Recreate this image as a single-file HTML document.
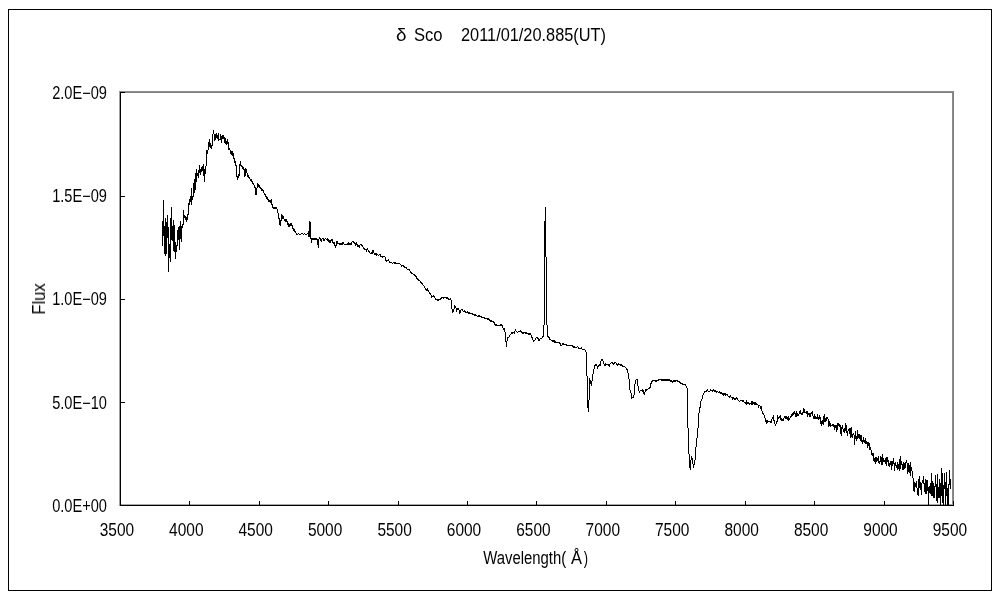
<!DOCTYPE html>
<html><head><meta charset="utf-8"><title>delta Sco spectrum</title>
<style>
html,body{margin:0;padding:0;background:#fff;}
body{width:1000px;height:600px;overflow:hidden;font-family:"Liberation Sans",sans-serif;}
svg{display:block;}
svg text{font-family:"Liberation Sans",sans-serif;font-size:17.5px;fill:#000;}
</style></head><body>
<svg width="1000" height="600" viewBox="0 0 1000 600">
<rect x="0" y="0" width="1000" height="600" fill="#fff"/>
<g shape-rendering="crispEdges">
<rect x="8.5" y="9.5" width="983" height="581" fill="none" stroke="#000" stroke-width="1"/>
<rect x="119" y="91" width="835" height="1" fill="#8c8c8c"/>
<rect x="952" y="91" width="1" height="414" fill="#8c8c8c"/>
<rect x="119" y="92" width="1" height="414" fill="#a0a0a0"/>
<rect x="120" y="504" width="834" height="1" fill="#a8a8a8"/>
<rect x="120" y="92" width="834" height="1" fill="#808080"/>
<rect x="953" y="92" width="1" height="414" fill="#808080"/>
<rect x="120" y="92" width="1" height="414" fill="#000"/>
<rect x="120" y="505" width="834" height="1" fill="#000"/>
<rect x="545" y="207" width="1" height="50" fill="#000"/>
<rect x="544" y="221" width="1" height="104" fill="#000"/>
<rect x="546" y="257" width="1" height="68" fill="#000"/>
<rect x="543" y="325" width="1" height="12" fill="#000"/>
<rect x="547" y="325" width="1" height="12" fill="#000"/>
<rect x="162" y="221" width="1" height="25" fill="#000"/>
<rect x="163" y="200" width="1" height="36" fill="#000"/>
<rect x="164" y="226" width="1" height="28" fill="#000"/>
<rect x="165" y="218" width="1" height="38" fill="#000"/>
<rect x="166" y="222" width="1" height="32" fill="#000"/>
<rect x="167" y="215" width="1" height="23" fill="#000"/>
<rect x="168" y="227" width="1" height="45" fill="#000"/>
<rect x="169" y="244" width="1" height="14" fill="#000"/>
<rect x="170" y="218" width="1" height="44" fill="#000"/>
<rect x="171" y="207" width="1" height="33" fill="#000"/>
<rect x="172" y="226" width="1" height="15" fill="#000"/>
<rect x="173" y="220" width="1" height="31" fill="#000"/>
<rect x="174" y="225" width="1" height="27" fill="#000"/>
<rect x="175" y="242" width="1" height="17" fill="#000"/>
<rect x="176" y="245" width="1" height="7" fill="#000"/>
<rect x="177" y="230" width="1" height="16" fill="#000"/>
<rect x="178" y="227" width="1" height="13" fill="#000"/>
<rect x="179" y="226" width="1" height="24" fill="#000"/>
<rect x="180" y="221" width="1" height="18" fill="#000"/>
<rect x="181" y="226" width="1" height="16" fill="#000"/>
<rect x="182" y="224" width="1" height="4" fill="#000"/>
<rect x="183" y="210" width="1" height="15" fill="#000"/>
<rect x="184" y="215" width="1" height="3" fill="#000"/>
<rect x="185" y="216" width="1" height="4" fill="#000"/>
<rect x="186" y="217" width="1" height="5" fill="#000"/>
<rect x="187" y="214" width="1" height="6" fill="#000"/>
<rect x="188" y="203" width="1" height="12" fill="#000"/>
<rect x="189" y="199" width="1" height="6" fill="#000"/>
<rect x="190" y="196" width="1" height="6" fill="#000"/>
<rect x="191" y="188" width="1" height="17" fill="#000"/>
<rect x="192" y="196" width="1" height="4" fill="#000"/>
<rect x="193" y="183" width="1" height="14" fill="#000"/>
<rect x="194" y="179" width="1" height="14" fill="#000"/>
<rect x="195" y="173" width="1" height="17" fill="#000"/>
<rect x="196" y="169" width="1" height="13" fill="#000"/>
<rect x="197" y="173" width="1" height="3" fill="#000"/>
<rect x="198" y="170" width="1" height="8" fill="#000"/>
<rect x="199" y="165" width="1" height="8" fill="#000"/>
<rect x="200" y="169" width="1" height="6" fill="#000"/>
<rect x="201" y="167" width="1" height="5" fill="#000"/>
<rect x="202" y="166" width="1" height="5" fill="#000"/>
<rect x="203" y="164" width="1" height="12" fill="#000"/>
<rect x="204" y="169" width="1" height="13" fill="#000"/>
<rect x="205" y="166" width="1" height="8" fill="#000"/>
<rect x="206" y="150" width="1" height="16" fill="#000"/>
<rect x="207" y="150" width="1" height="4" fill="#000"/>
<rect x="208" y="142" width="1" height="8" fill="#000"/>
<rect x="209" y="139" width="1" height="8" fill="#000"/>
<rect x="210" y="143" width="1" height="5" fill="#000"/>
<rect x="211" y="145" width="1" height="4" fill="#000"/>
<rect x="212" y="134" width="1" height="12" fill="#000"/>
<rect x="213" y="130" width="1" height="4" fill="#000"/>
<rect x="214" y="134" width="1" height="7" fill="#000"/>
<rect x="215" y="134" width="1" height="6" fill="#000"/>
<rect x="216" y="133" width="1" height="5" fill="#000"/>
<rect x="217" y="135" width="1" height="4" fill="#000"/>
<rect x="218" y="133" width="1" height="8" fill="#000"/>
<rect x="219" y="139" width="1" height="1" fill="#000"/>
<rect x="220" y="134" width="1" height="6" fill="#000"/>
<rect x="221" y="136" width="1" height="7" fill="#000"/>
<rect x="222" y="135" width="1" height="4" fill="#000"/>
<rect x="223" y="135" width="1" height="4" fill="#000"/>
<rect x="224" y="137" width="1" height="6" fill="#000"/>
<rect x="225" y="138" width="1" height="6" fill="#000"/>
<rect x="226" y="141" width="1" height="4" fill="#000"/>
<rect x="227" y="139" width="1" height="5" fill="#000"/>
<rect x="228" y="142" width="1" height="8" fill="#000"/>
<rect x="229" y="148" width="1" height="2" fill="#000"/>
<rect x="230" y="150" width="1" height="4" fill="#000"/>
<rect x="231" y="151" width="1" height="4" fill="#000"/>
<rect x="232" y="151" width="1" height="5" fill="#000"/>
<rect x="233" y="153" width="1" height="6" fill="#000"/>
<rect x="234" y="158" width="1" height="5" fill="#000"/>
<rect x="235" y="161" width="1" height="5" fill="#000"/>
<rect x="236" y="165" width="1" height="12" fill="#000"/>
<rect x="237" y="176" width="1" height="4" fill="#000"/>
<rect x="238" y="174" width="1" height="4" fill="#000"/>
<rect x="239" y="164" width="1" height="12" fill="#000"/>
<rect x="240" y="161" width="1" height="5" fill="#000"/>
<rect x="241" y="165" width="1" height="2" fill="#000"/>
<rect x="242" y="166" width="1" height="3" fill="#000"/>
<rect x="243" y="167" width="1" height="3" fill="#000"/>
<rect x="244" y="169" width="1" height="8" fill="#000"/>
<rect x="245" y="168" width="1" height="8" fill="#000"/>
<rect x="246" y="169" width="1" height="4" fill="#000"/>
<rect x="247" y="173" width="1" height="4" fill="#000"/>
<rect x="248" y="175" width="1" height="3" fill="#000"/>
<rect x="249" y="177" width="1" height="2" fill="#000"/>
<rect x="250" y="179" width="1" height="2" fill="#000"/>
<rect x="251" y="179" width="1" height="3" fill="#000"/>
<rect x="252" y="181" width="1" height="3" fill="#000"/>
<rect x="253" y="183" width="1" height="2" fill="#000"/>
<rect x="254" y="185" width="1" height="3" fill="#000"/>
<rect x="255" y="187" width="1" height="8" fill="#000"/>
<rect x="256" y="188" width="1" height="7" fill="#000"/>
<rect x="257" y="183" width="1" height="5" fill="#000"/>
<rect x="258" y="184" width="1" height="3" fill="#000"/>
<rect x="259" y="185" width="1" height="3" fill="#000"/>
<rect x="260" y="187" width="1" height="2" fill="#000"/>
<rect x="261" y="188" width="1" height="3" fill="#000"/>
<rect x="262" y="189" width="1" height="2" fill="#000"/>
<rect x="263" y="190" width="1" height="3" fill="#000"/>
<rect x="264" y="193" width="1" height="2" fill="#000"/>
<rect x="265" y="194" width="1" height="3" fill="#000"/>
<rect x="266" y="196" width="1" height="3" fill="#000"/>
<rect x="267" y="197" width="1" height="3" fill="#000"/>
<rect x="268" y="199" width="1" height="3" fill="#000"/>
<rect x="269" y="200" width="1" height="2" fill="#000"/>
<rect x="270" y="200" width="1" height="3" fill="#000"/>
<rect x="271" y="199" width="1" height="6" fill="#000"/>
<rect x="272" y="204" width="1" height="4" fill="#000"/>
<rect x="273" y="207" width="1" height="2" fill="#000"/>
<rect x="274" y="207" width="1" height="2" fill="#000"/>
<rect x="275" y="207" width="1" height="2" fill="#000"/>
<rect x="276" y="207" width="1" height="2" fill="#000"/>
<rect x="277" y="209" width="1" height="4" fill="#000"/>
<rect x="278" y="213" width="1" height="6" fill="#000"/>
<rect x="279" y="218" width="1" height="7" fill="#000"/>
<rect x="280" y="220" width="1" height="6" fill="#000"/>
<rect x="281" y="214" width="1" height="7" fill="#000"/>
<rect x="282" y="215" width="1" height="4" fill="#000"/>
<rect x="283" y="216" width="1" height="3" fill="#000"/>
<rect x="284" y="219" width="1" height="2" fill="#000"/>
<rect x="285" y="219" width="1" height="3" fill="#000"/>
<rect x="286" y="219" width="1" height="3" fill="#000"/>
<rect x="287" y="221" width="1" height="4" fill="#000"/>
<rect x="288" y="223" width="1" height="4" fill="#000"/>
<rect x="289" y="224" width="1" height="3" fill="#000"/>
<rect x="290" y="223" width="1" height="3" fill="#000"/>
<rect x="291" y="223" width="1" height="3" fill="#000"/>
<rect x="292" y="225" width="1" height="4" fill="#000"/>
<rect x="293" y="228" width="1" height="3" fill="#000"/>
<rect x="294" y="229" width="1" height="3" fill="#000"/>
<rect x="295" y="231" width="1" height="2" fill="#000"/>
<rect x="296" y="233" width="1" height="2" fill="#000"/>
<rect x="297" y="234" width="1" height="1" fill="#000"/>
<rect x="298" y="233" width="1" height="1" fill="#000"/>
<rect x="299" y="234" width="1" height="1" fill="#000"/>
<rect x="300" y="234" width="1" height="1" fill="#000"/>
<rect x="301" y="233" width="1" height="1" fill="#000"/>
<rect x="302" y="233" width="1" height="1" fill="#000"/>
<rect x="303" y="234" width="1" height="1" fill="#000"/>
<rect x="304" y="233" width="1" height="1" fill="#000"/>
<rect x="305" y="234" width="1" height="1" fill="#000"/>
<rect x="306" y="234" width="1" height="1" fill="#000"/>
<rect x="307" y="233" width="1" height="1" fill="#000"/>
<rect x="308" y="231" width="1" height="6" fill="#000"/>
<rect x="309" y="221" width="1" height="16" fill="#000"/>
<rect x="310" y="222" width="1" height="17" fill="#000"/>
<rect x="311" y="238" width="1" height="5" fill="#000"/>
<rect x="312" y="238" width="1" height="2" fill="#000"/>
<rect x="313" y="238" width="1" height="2" fill="#000"/>
<rect x="314" y="238" width="1" height="2" fill="#000"/>
<rect x="315" y="238" width="1" height="2" fill="#000"/>
<rect x="316" y="238" width="1" height="2" fill="#000"/>
<rect x="317" y="239" width="1" height="6" fill="#000"/>
<rect x="318" y="239" width="1" height="9" fill="#000"/>
<rect x="319" y="237" width="1" height="2" fill="#000"/>
<rect x="320" y="238" width="1" height="3" fill="#000"/>
<rect x="321" y="239" width="1" height="3" fill="#000"/>
<rect x="322" y="238" width="1" height="1" fill="#000"/>
<rect x="323" y="238" width="1" height="3" fill="#000"/>
<rect x="324" y="239" width="1" height="2" fill="#000"/>
<rect x="325" y="238" width="1" height="1" fill="#000"/>
<rect x="326" y="239" width="1" height="1" fill="#000"/>
<rect x="327" y="238" width="1" height="3" fill="#000"/>
<rect x="328" y="239" width="1" height="3" fill="#000"/>
<rect x="329" y="240" width="1" height="3" fill="#000"/>
<rect x="330" y="240" width="1" height="3" fill="#000"/>
<rect x="331" y="239" width="1" height="2" fill="#000"/>
<rect x="332" y="239" width="1" height="4" fill="#000"/>
<rect x="333" y="242" width="1" height="2" fill="#000"/>
<rect x="334" y="242" width="1" height="4" fill="#000"/>
<rect x="335" y="245" width="1" height="3" fill="#000"/>
<rect x="336" y="241" width="1" height="5" fill="#000"/>
<rect x="337" y="241" width="1" height="3" fill="#000"/>
<rect x="338" y="243" width="1" height="1" fill="#000"/>
<rect x="339" y="243" width="1" height="2" fill="#000"/>
<rect x="340" y="243" width="1" height="2" fill="#000"/>
<rect x="341" y="243" width="1" height="2" fill="#000"/>
<rect x="342" y="242" width="1" height="3" fill="#000"/>
<rect x="343" y="242" width="1" height="2" fill="#000"/>
<rect x="344" y="244" width="1" height="1" fill="#000"/>
<rect x="345" y="244" width="1" height="1" fill="#000"/>
<rect x="346" y="244" width="1" height="1" fill="#000"/>
<rect x="347" y="243" width="1" height="2" fill="#000"/>
<rect x="348" y="242" width="1" height="3" fill="#000"/>
<rect x="349" y="243" width="1" height="2" fill="#000"/>
<rect x="350" y="243" width="1" height="2" fill="#000"/>
<rect x="351" y="242" width="1" height="3" fill="#000"/>
<rect x="352" y="241" width="1" height="1" fill="#000"/>
<rect x="353" y="241" width="1" height="2" fill="#000"/>
<rect x="354" y="242" width="1" height="2" fill="#000"/>
<rect x="355" y="243" width="1" height="3" fill="#000"/>
<rect x="356" y="242" width="1" height="3" fill="#000"/>
<rect x="357" y="244" width="1" height="3" fill="#000"/>
<rect x="358" y="245" width="1" height="2" fill="#000"/>
<rect x="359" y="245" width="1" height="3" fill="#000"/>
<rect x="360" y="244" width="1" height="1" fill="#000"/>
<rect x="361" y="244" width="1" height="2" fill="#000"/>
<rect x="362" y="245" width="1" height="2" fill="#000"/>
<rect x="363" y="247" width="1" height="2" fill="#000"/>
<rect x="364" y="248" width="1" height="2" fill="#000"/>
<rect x="365" y="249" width="1" height="1" fill="#000"/>
<rect x="366" y="249" width="1" height="3" fill="#000"/>
<rect x="367" y="248" width="1" height="2" fill="#000"/>
<rect x="368" y="250" width="1" height="2" fill="#000"/>
<rect x="369" y="251" width="1" height="2" fill="#000"/>
<rect x="370" y="253" width="1" height="1" fill="#000"/>
<rect x="371" y="252" width="1" height="2" fill="#000"/>
<rect x="372" y="250" width="1" height="4" fill="#000"/>
<rect x="373" y="250" width="1" height="3" fill="#000"/>
<rect x="374" y="253" width="1" height="2" fill="#000"/>
<rect x="375" y="253" width="1" height="2" fill="#000"/>
<rect x="376" y="253" width="1" height="3" fill="#000"/>
<rect x="377" y="254" width="1" height="1" fill="#000"/>
<rect x="378" y="255" width="1" height="1" fill="#000"/>
<rect x="379" y="254" width="1" height="1" fill="#000"/>
<rect x="380" y="254" width="1" height="3" fill="#000"/>
<rect x="381" y="256" width="1" height="1" fill="#000"/>
<rect x="382" y="256" width="1" height="2" fill="#000"/>
<rect x="383" y="256" width="1" height="1" fill="#000"/>
<rect x="384" y="256" width="1" height="1" fill="#000"/>
<rect x="385" y="257" width="1" height="4" fill="#000"/>
<rect x="386" y="260" width="1" height="2" fill="#000"/>
<rect x="387" y="260" width="1" height="1" fill="#000"/>
<rect x="388" y="259" width="1" height="2" fill="#000"/>
<rect x="389" y="261" width="1" height="2" fill="#000"/>
<rect x="390" y="262" width="1" height="1" fill="#000"/>
<rect x="391" y="262" width="1" height="1" fill="#000"/>
<rect x="392" y="263" width="1" height="1" fill="#000"/>
<rect x="393" y="262" width="1" height="1" fill="#000"/>
<rect x="394" y="262" width="1" height="2" fill="#000"/>
<rect x="395" y="262" width="1" height="2" fill="#000"/>
<rect x="396" y="263" width="1" height="1" fill="#000"/>
<rect x="397" y="263" width="1" height="1" fill="#000"/>
<rect x="398" y="263" width="1" height="1" fill="#000"/>
<rect x="399" y="263" width="1" height="1" fill="#000"/>
<rect x="400" y="264" width="1" height="1" fill="#000"/>
<rect x="401" y="265" width="1" height="2" fill="#000"/>
<rect x="402" y="265" width="1" height="1" fill="#000"/>
<rect x="403" y="265" width="1" height="2" fill="#000"/>
<rect x="404" y="266" width="1" height="2" fill="#000"/>
<rect x="405" y="267" width="1" height="1" fill="#000"/>
<rect x="406" y="267" width="1" height="2" fill="#000"/>
<rect x="407" y="269" width="1" height="1" fill="#000"/>
<rect x="408" y="269" width="1" height="1" fill="#000"/>
<rect x="409" y="269" width="1" height="2" fill="#000"/>
<rect x="410" y="271" width="1" height="2" fill="#000"/>
<rect x="411" y="272" width="1" height="2" fill="#000"/>
<rect x="412" y="273" width="1" height="1" fill="#000"/>
<rect x="413" y="274" width="1" height="1" fill="#000"/>
<rect x="414" y="274" width="1" height="2" fill="#000"/>
<rect x="415" y="275" width="1" height="2" fill="#000"/>
<rect x="416" y="276" width="1" height="3" fill="#000"/>
<rect x="417" y="278" width="1" height="2" fill="#000"/>
<rect x="418" y="279" width="1" height="2" fill="#000"/>
<rect x="419" y="280" width="1" height="1" fill="#000"/>
<rect x="420" y="281" width="1" height="2" fill="#000"/>
<rect x="421" y="282" width="1" height="2" fill="#000"/>
<rect x="422" y="283" width="1" height="2" fill="#000"/>
<rect x="423" y="285" width="1" height="1" fill="#000"/>
<rect x="424" y="286" width="1" height="2" fill="#000"/>
<rect x="425" y="288" width="1" height="2" fill="#000"/>
<rect x="426" y="289" width="1" height="2" fill="#000"/>
<rect x="427" y="288" width="1" height="3" fill="#000"/>
<rect x="428" y="290" width="1" height="2" fill="#000"/>
<rect x="429" y="292" width="1" height="2" fill="#000"/>
<rect x="430" y="293" width="1" height="2" fill="#000"/>
<rect x="431" y="295" width="1" height="3" fill="#000"/>
<rect x="432" y="296" width="1" height="1" fill="#000"/>
<rect x="433" y="295" width="1" height="2" fill="#000"/>
<rect x="434" y="296" width="1" height="2" fill="#000"/>
<rect x="435" y="298" width="1" height="2" fill="#000"/>
<rect x="436" y="299" width="1" height="1" fill="#000"/>
<rect x="437" y="299" width="1" height="2" fill="#000"/>
<rect x="438" y="299" width="1" height="2" fill="#000"/>
<rect x="439" y="299" width="1" height="1" fill="#000"/>
<rect x="440" y="298" width="1" height="2" fill="#000"/>
<rect x="441" y="297" width="1" height="2" fill="#000"/>
<rect x="442" y="297" width="1" height="1" fill="#000"/>
<rect x="443" y="297" width="1" height="2" fill="#000"/>
<rect x="444" y="297" width="1" height="1" fill="#000"/>
<rect x="445" y="297" width="1" height="1" fill="#000"/>
<rect x="446" y="297" width="1" height="2" fill="#000"/>
<rect x="447" y="297" width="1" height="2" fill="#000"/>
<rect x="448" y="298" width="1" height="2" fill="#000"/>
<rect x="449" y="299" width="1" height="1" fill="#000"/>
<rect x="450" y="298" width="1" height="2" fill="#000"/>
<rect x="451" y="300" width="1" height="9" fill="#000"/>
<rect x="452" y="309" width="1" height="4" fill="#000"/>
<rect x="453" y="309" width="1" height="3" fill="#000"/>
<rect x="454" y="305" width="1" height="4" fill="#000"/>
<rect x="455" y="306" width="1" height="2" fill="#000"/>
<rect x="456" y="308" width="1" height="4" fill="#000"/>
<rect x="457" y="308" width="1" height="2" fill="#000"/>
<rect x="458" y="308" width="1" height="2" fill="#000"/>
<rect x="459" y="310" width="1" height="4" fill="#000"/>
<rect x="460" y="310" width="1" height="3" fill="#000"/>
<rect x="461" y="309" width="1" height="1" fill="#000"/>
<rect x="462" y="309" width="1" height="2" fill="#000"/>
<rect x="463" y="311" width="1" height="1" fill="#000"/>
<rect x="464" y="310" width="1" height="2" fill="#000"/>
<rect x="465" y="311" width="1" height="2" fill="#000"/>
<rect x="466" y="312" width="1" height="1" fill="#000"/>
<rect x="467" y="311" width="1" height="2" fill="#000"/>
<rect x="468" y="312" width="1" height="2" fill="#000"/>
<rect x="469" y="312" width="1" height="2" fill="#000"/>
<rect x="470" y="313" width="1" height="1" fill="#000"/>
<rect x="471" y="313" width="1" height="1" fill="#000"/>
<rect x="472" y="313" width="1" height="2" fill="#000"/>
<rect x="473" y="314" width="1" height="1" fill="#000"/>
<rect x="474" y="314" width="1" height="2" fill="#000"/>
<rect x="475" y="314" width="1" height="2" fill="#000"/>
<rect x="476" y="315" width="1" height="1" fill="#000"/>
<rect x="477" y="316" width="1" height="1" fill="#000"/>
<rect x="478" y="315" width="1" height="2" fill="#000"/>
<rect x="479" y="315" width="1" height="2" fill="#000"/>
<rect x="480" y="316" width="1" height="1" fill="#000"/>
<rect x="481" y="316" width="1" height="2" fill="#000"/>
<rect x="482" y="317" width="1" height="1" fill="#000"/>
<rect x="483" y="317" width="1" height="1" fill="#000"/>
<rect x="484" y="317" width="1" height="2" fill="#000"/>
<rect x="485" y="318" width="1" height="1" fill="#000"/>
<rect x="486" y="318" width="1" height="1" fill="#000"/>
<rect x="487" y="318" width="1" height="2" fill="#000"/>
<rect x="488" y="318" width="1" height="2" fill="#000"/>
<rect x="489" y="319" width="1" height="2" fill="#000"/>
<rect x="490" y="320" width="1" height="2" fill="#000"/>
<rect x="491" y="320" width="1" height="2" fill="#000"/>
<rect x="492" y="321" width="1" height="1" fill="#000"/>
<rect x="493" y="321" width="1" height="2" fill="#000"/>
<rect x="494" y="322" width="1" height="3" fill="#000"/>
<rect x="495" y="324" width="1" height="2" fill="#000"/>
<rect x="496" y="324" width="1" height="2" fill="#000"/>
<rect x="497" y="325" width="1" height="1" fill="#000"/>
<rect x="498" y="325" width="1" height="1" fill="#000"/>
<rect x="499" y="325" width="1" height="1" fill="#000"/>
<rect x="500" y="324" width="1" height="2" fill="#000"/>
<rect x="501" y="324" width="1" height="2" fill="#000"/>
<rect x="502" y="325" width="1" height="3" fill="#000"/>
<rect x="503" y="328" width="1" height="2" fill="#000"/>
<rect x="504" y="328" width="1" height="4" fill="#000"/>
<rect x="505" y="332" width="1" height="10" fill="#000"/>
<rect x="506" y="341" width="1" height="6" fill="#000"/>
<rect x="507" y="337" width="1" height="4" fill="#000"/>
<rect x="508" y="337" width="1" height="1" fill="#000"/>
<rect x="509" y="335" width="1" height="2" fill="#000"/>
<rect x="510" y="334" width="1" height="1" fill="#000"/>
<rect x="511" y="332" width="1" height="2" fill="#000"/>
<rect x="512" y="332" width="1" height="2" fill="#000"/>
<rect x="513" y="332" width="1" height="1" fill="#000"/>
<rect x="514" y="331" width="1" height="3" fill="#000"/>
<rect x="515" y="329" width="1" height="2" fill="#000"/>
<rect x="516" y="331" width="1" height="1" fill="#000"/>
<rect x="517" y="332" width="1" height="1" fill="#000"/>
<rect x="518" y="331" width="1" height="1" fill="#000"/>
<rect x="519" y="331" width="1" height="1" fill="#000"/>
<rect x="520" y="330" width="1" height="2" fill="#000"/>
<rect x="521" y="331" width="1" height="2" fill="#000"/>
<rect x="522" y="332" width="1" height="2" fill="#000"/>
<rect x="523" y="332" width="1" height="2" fill="#000"/>
<rect x="524" y="332" width="1" height="1" fill="#000"/>
<rect x="525" y="332" width="1" height="2" fill="#000"/>
<rect x="526" y="332" width="1" height="2" fill="#000"/>
<rect x="527" y="333" width="1" height="1" fill="#000"/>
<rect x="528" y="333" width="1" height="2" fill="#000"/>
<rect x="529" y="333" width="1" height="2" fill="#000"/>
<rect x="530" y="333" width="1" height="2" fill="#000"/>
<rect x="531" y="335" width="1" height="3" fill="#000"/>
<rect x="532" y="337" width="1" height="3" fill="#000"/>
<rect x="533" y="340" width="1" height="2" fill="#000"/>
<rect x="534" y="340" width="1" height="1" fill="#000"/>
<rect x="535" y="338" width="1" height="2" fill="#000"/>
<rect x="536" y="337" width="1" height="1" fill="#000"/>
<rect x="537" y="337" width="1" height="2" fill="#000"/>
<rect x="538" y="338" width="1" height="3" fill="#000"/>
<rect x="539" y="339" width="1" height="2" fill="#000"/>
<rect x="540" y="338" width="1" height="1" fill="#000"/>
<rect x="541" y="338" width="1" height="1" fill="#000"/>
<rect x="542" y="336" width="1" height="2" fill="#000"/>
<rect x="543" y="325" width="1" height="12" fill="#000"/>
<rect x="544" y="221" width="1" height="104" fill="#000"/>
<rect x="545" y="207" width="1" height="50" fill="#000"/>
<rect x="546" y="257" width="1" height="68" fill="#000"/>
<rect x="547" y="325" width="1" height="12" fill="#000"/>
<rect x="548" y="336" width="1" height="2" fill="#000"/>
<rect x="549" y="337" width="1" height="3" fill="#000"/>
<rect x="550" y="339" width="1" height="1" fill="#000"/>
<rect x="551" y="340" width="1" height="1" fill="#000"/>
<rect x="552" y="340" width="1" height="2" fill="#000"/>
<rect x="553" y="340" width="1" height="2" fill="#000"/>
<rect x="554" y="340" width="1" height="3" fill="#000"/>
<rect x="555" y="341" width="1" height="2" fill="#000"/>
<rect x="556" y="342" width="1" height="1" fill="#000"/>
<rect x="557" y="342" width="1" height="1" fill="#000"/>
<rect x="558" y="342" width="1" height="1" fill="#000"/>
<rect x="559" y="342" width="1" height="2" fill="#000"/>
<rect x="560" y="343" width="1" height="3" fill="#000"/>
<rect x="561" y="345" width="1" height="1" fill="#000"/>
<rect x="562" y="343" width="1" height="2" fill="#000"/>
<rect x="563" y="343" width="1" height="2" fill="#000"/>
<rect x="564" y="344" width="1" height="1" fill="#000"/>
<rect x="565" y="344" width="1" height="1" fill="#000"/>
<rect x="566" y="344" width="1" height="2" fill="#000"/>
<rect x="567" y="345" width="1" height="1" fill="#000"/>
<rect x="568" y="345" width="1" height="1" fill="#000"/>
<rect x="569" y="345" width="1" height="1" fill="#000"/>
<rect x="570" y="345" width="1" height="1" fill="#000"/>
<rect x="571" y="345" width="1" height="1" fill="#000"/>
<rect x="572" y="345" width="1" height="2" fill="#000"/>
<rect x="573" y="346" width="1" height="2" fill="#000"/>
<rect x="574" y="346" width="1" height="2" fill="#000"/>
<rect x="575" y="347" width="1" height="1" fill="#000"/>
<rect x="576" y="347" width="1" height="1" fill="#000"/>
<rect x="577" y="346" width="1" height="1" fill="#000"/>
<rect x="578" y="347" width="1" height="2" fill="#000"/>
<rect x="579" y="348" width="1" height="1" fill="#000"/>
<rect x="580" y="348" width="1" height="1" fill="#000"/>
<rect x="581" y="347" width="1" height="2" fill="#000"/>
<rect x="582" y="349" width="1" height="1" fill="#000"/>
<rect x="583" y="349" width="1" height="1" fill="#000"/>
<rect x="584" y="349" width="1" height="1" fill="#000"/>
<rect x="585" y="350" width="1" height="2" fill="#000"/>
<rect x="586" y="352" width="1" height="24" fill="#000"/>
<rect x="587" y="376" width="1" height="32" fill="#000"/>
<rect x="588" y="400" width="1" height="12" fill="#000"/>
<rect x="589" y="378" width="1" height="22" fill="#000"/>
<rect x="590" y="380" width="1" height="4" fill="#000"/>
<rect x="591" y="381" width="1" height="5" fill="#000"/>
<rect x="592" y="374" width="1" height="7" fill="#000"/>
<rect x="593" y="369" width="1" height="5" fill="#000"/>
<rect x="594" y="365" width="1" height="4" fill="#000"/>
<rect x="595" y="364" width="1" height="2" fill="#000"/>
<rect x="596" y="364" width="1" height="2" fill="#000"/>
<rect x="597" y="366" width="1" height="3" fill="#000"/>
<rect x="598" y="365" width="1" height="2" fill="#000"/>
<rect x="599" y="364" width="1" height="2" fill="#000"/>
<rect x="600" y="361" width="1" height="5" fill="#000"/>
<rect x="601" y="359" width="1" height="2" fill="#000"/>
<rect x="602" y="359" width="1" height="2" fill="#000"/>
<rect x="603" y="361" width="1" height="3" fill="#000"/>
<rect x="604" y="364" width="1" height="2" fill="#000"/>
<rect x="605" y="363" width="1" height="3" fill="#000"/>
<rect x="606" y="364" width="1" height="1" fill="#000"/>
<rect x="607" y="364" width="1" height="1" fill="#000"/>
<rect x="608" y="364" width="1" height="2" fill="#000"/>
<rect x="609" y="364" width="1" height="3" fill="#000"/>
<rect x="610" y="363" width="1" height="1" fill="#000"/>
<rect x="611" y="362" width="1" height="1" fill="#000"/>
<rect x="612" y="362" width="1" height="2" fill="#000"/>
<rect x="613" y="363" width="1" height="2" fill="#000"/>
<rect x="614" y="362" width="1" height="2" fill="#000"/>
<rect x="615" y="362" width="1" height="1" fill="#000"/>
<rect x="616" y="363" width="1" height="2" fill="#000"/>
<rect x="617" y="364" width="1" height="2" fill="#000"/>
<rect x="618" y="363" width="1" height="2" fill="#000"/>
<rect x="619" y="364" width="1" height="1" fill="#000"/>
<rect x="620" y="364" width="1" height="2" fill="#000"/>
<rect x="621" y="364" width="1" height="2" fill="#000"/>
<rect x="622" y="365" width="1" height="2" fill="#000"/>
<rect x="623" y="366" width="1" height="1" fill="#000"/>
<rect x="624" y="366" width="1" height="1" fill="#000"/>
<rect x="625" y="367" width="1" height="1" fill="#000"/>
<rect x="626" y="368" width="1" height="2" fill="#000"/>
<rect x="627" y="369" width="1" height="4" fill="#000"/>
<rect x="628" y="373" width="1" height="6" fill="#000"/>
<rect x="629" y="379" width="1" height="11" fill="#000"/>
<rect x="630" y="390" width="1" height="3" fill="#000"/>
<rect x="631" y="393" width="1" height="6" fill="#000"/>
<rect x="632" y="397" width="1" height="1" fill="#000"/>
<rect x="633" y="395" width="1" height="3" fill="#000"/>
<rect x="634" y="384" width="1" height="11" fill="#000"/>
<rect x="635" y="380" width="1" height="4" fill="#000"/>
<rect x="636" y="379" width="1" height="1" fill="#000"/>
<rect x="637" y="379" width="1" height="7" fill="#000"/>
<rect x="638" y="386" width="1" height="5" fill="#000"/>
<rect x="639" y="391" width="1" height="2" fill="#000"/>
<rect x="640" y="390" width="1" height="1" fill="#000"/>
<rect x="641" y="390" width="1" height="1" fill="#000"/>
<rect x="642" y="389" width="1" height="3" fill="#000"/>
<rect x="643" y="390" width="1" height="4" fill="#000"/>
<rect x="644" y="392" width="1" height="3" fill="#000"/>
<rect x="645" y="389" width="1" height="3" fill="#000"/>
<rect x="646" y="389" width="1" height="2" fill="#000"/>
<rect x="647" y="389" width="1" height="1" fill="#000"/>
<rect x="648" y="388" width="1" height="1" fill="#000"/>
<rect x="649" y="387" width="1" height="2" fill="#000"/>
<rect x="650" y="383" width="1" height="5" fill="#000"/>
<rect x="651" y="381" width="1" height="3" fill="#000"/>
<rect x="652" y="380" width="1" height="2" fill="#000"/>
<rect x="653" y="380" width="1" height="1" fill="#000"/>
<rect x="654" y="380" width="1" height="1" fill="#000"/>
<rect x="655" y="380" width="1" height="2" fill="#000"/>
<rect x="656" y="380" width="1" height="2" fill="#000"/>
<rect x="657" y="380" width="1" height="1" fill="#000"/>
<rect x="658" y="379" width="1" height="2" fill="#000"/>
<rect x="659" y="379" width="1" height="1" fill="#000"/>
<rect x="660" y="379" width="1" height="1" fill="#000"/>
<rect x="661" y="379" width="1" height="2" fill="#000"/>
<rect x="662" y="379" width="1" height="2" fill="#000"/>
<rect x="663" y="379" width="1" height="2" fill="#000"/>
<rect x="664" y="379" width="1" height="2" fill="#000"/>
<rect x="665" y="379" width="1" height="2" fill="#000"/>
<rect x="666" y="379" width="1" height="2" fill="#000"/>
<rect x="667" y="379" width="1" height="2" fill="#000"/>
<rect x="668" y="379" width="1" height="2" fill="#000"/>
<rect x="669" y="379" width="1" height="2" fill="#000"/>
<rect x="670" y="380" width="1" height="2" fill="#000"/>
<rect x="671" y="380" width="1" height="2" fill="#000"/>
<rect x="672" y="381" width="1" height="2" fill="#000"/>
<rect x="673" y="380" width="1" height="2" fill="#000"/>
<rect x="674" y="380" width="1" height="2" fill="#000"/>
<rect x="675" y="380" width="1" height="2" fill="#000"/>
<rect x="676" y="380" width="1" height="1" fill="#000"/>
<rect x="677" y="380" width="1" height="2" fill="#000"/>
<rect x="678" y="381" width="1" height="1" fill="#000"/>
<rect x="679" y="381" width="1" height="2" fill="#000"/>
<rect x="680" y="382" width="1" height="2" fill="#000"/>
<rect x="681" y="383" width="1" height="1" fill="#000"/>
<rect x="682" y="383" width="1" height="2" fill="#000"/>
<rect x="683" y="384" width="1" height="1" fill="#000"/>
<rect x="684" y="384" width="1" height="1" fill="#000"/>
<rect x="685" y="384" width="1" height="2" fill="#000"/>
<rect x="686" y="386" width="1" height="2" fill="#000"/>
<rect x="687" y="388" width="1" height="40" fill="#000"/>
<rect x="688" y="428" width="1" height="26" fill="#000"/>
<rect x="689" y="454" width="1" height="14" fill="#000"/>
<rect x="690" y="460" width="1" height="10" fill="#000"/>
<rect x="691" y="456" width="1" height="4" fill="#000"/>
<rect x="692" y="458" width="1" height="6" fill="#000"/>
<rect x="693" y="464" width="1" height="4" fill="#000"/>
<rect x="694" y="460" width="1" height="5" fill="#000"/>
<rect x="695" y="447" width="1" height="13" fill="#000"/>
<rect x="696" y="438" width="1" height="9" fill="#000"/>
<rect x="697" y="428" width="1" height="10" fill="#000"/>
<rect x="698" y="413" width="1" height="15" fill="#000"/>
<rect x="699" y="407" width="1" height="6" fill="#000"/>
<rect x="700" y="401" width="1" height="7" fill="#000"/>
<rect x="701" y="399" width="1" height="2" fill="#000"/>
<rect x="702" y="395" width="1" height="4" fill="#000"/>
<rect x="703" y="393" width="1" height="2" fill="#000"/>
<rect x="704" y="391" width="1" height="2" fill="#000"/>
<rect x="705" y="391" width="1" height="1" fill="#000"/>
<rect x="706" y="390" width="1" height="2" fill="#000"/>
<rect x="707" y="389" width="1" height="2" fill="#000"/>
<rect x="708" y="391" width="1" height="1" fill="#000"/>
<rect x="709" y="391" width="1" height="1" fill="#000"/>
<rect x="710" y="389" width="1" height="2" fill="#000"/>
<rect x="711" y="390" width="1" height="1" fill="#000"/>
<rect x="712" y="390" width="1" height="2" fill="#000"/>
<rect x="713" y="389" width="1" height="2" fill="#000"/>
<rect x="714" y="390" width="1" height="2" fill="#000"/>
<rect x="715" y="390" width="1" height="2" fill="#000"/>
<rect x="716" y="391" width="1" height="2" fill="#000"/>
<rect x="717" y="391" width="1" height="1" fill="#000"/>
<rect x="718" y="392" width="1" height="1" fill="#000"/>
<rect x="719" y="391" width="1" height="2" fill="#000"/>
<rect x="720" y="392" width="1" height="2" fill="#000"/>
<rect x="721" y="392" width="1" height="2" fill="#000"/>
<rect x="722" y="393" width="1" height="2" fill="#000"/>
<rect x="723" y="393" width="1" height="3" fill="#000"/>
<rect x="724" y="393" width="1" height="2" fill="#000"/>
<rect x="725" y="393" width="1" height="3" fill="#000"/>
<rect x="726" y="394" width="1" height="1" fill="#000"/>
<rect x="727" y="394" width="1" height="2" fill="#000"/>
<rect x="728" y="396" width="1" height="1" fill="#000"/>
<rect x="729" y="396" width="1" height="2" fill="#000"/>
<rect x="730" y="395" width="1" height="2" fill="#000"/>
<rect x="731" y="397" width="1" height="1" fill="#000"/>
<rect x="732" y="397" width="1" height="3" fill="#000"/>
<rect x="733" y="397" width="1" height="2" fill="#000"/>
<rect x="734" y="398" width="1" height="2" fill="#000"/>
<rect x="735" y="398" width="1" height="2" fill="#000"/>
<rect x="736" y="397" width="1" height="2" fill="#000"/>
<rect x="737" y="398" width="1" height="2" fill="#000"/>
<rect x="738" y="400" width="1" height="1" fill="#000"/>
<rect x="739" y="401" width="1" height="1" fill="#000"/>
<rect x="740" y="400" width="1" height="1" fill="#000"/>
<rect x="741" y="400" width="1" height="1" fill="#000"/>
<rect x="742" y="400" width="1" height="2" fill="#000"/>
<rect x="743" y="400" width="1" height="2" fill="#000"/>
<rect x="744" y="402" width="1" height="1" fill="#000"/>
<rect x="745" y="402" width="1" height="2" fill="#000"/>
<rect x="746" y="400" width="1" height="5" fill="#000"/>
<rect x="747" y="402" width="1" height="2" fill="#000"/>
<rect x="748" y="402" width="1" height="2" fill="#000"/>
<rect x="749" y="403" width="1" height="2" fill="#000"/>
<rect x="750" y="403" width="1" height="1" fill="#000"/>
<rect x="751" y="401" width="1" height="4" fill="#000"/>
<rect x="752" y="401" width="1" height="4" fill="#000"/>
<rect x="753" y="402" width="1" height="2" fill="#000"/>
<rect x="754" y="402" width="1" height="3" fill="#000"/>
<rect x="755" y="402" width="1" height="3" fill="#000"/>
<rect x="756" y="403" width="1" height="2" fill="#000"/>
<rect x="757" y="404" width="1" height="1" fill="#000"/>
<rect x="758" y="405" width="1" height="3" fill="#000"/>
<rect x="759" y="405" width="1" height="1" fill="#000"/>
<rect x="760" y="406" width="1" height="3" fill="#000"/>
<rect x="761" y="406" width="1" height="5" fill="#000"/>
<rect x="762" y="411" width="1" height="3" fill="#000"/>
<rect x="763" y="413" width="1" height="2" fill="#000"/>
<rect x="764" y="415" width="1" height="3" fill="#000"/>
<rect x="765" y="418" width="1" height="4" fill="#000"/>
<rect x="766" y="420" width="1" height="4" fill="#000"/>
<rect x="767" y="420" width="1" height="3" fill="#000"/>
<rect x="768" y="421" width="1" height="1" fill="#000"/>
<rect x="769" y="421" width="1" height="1" fill="#000"/>
<rect x="770" y="421" width="1" height="2" fill="#000"/>
<rect x="771" y="419" width="1" height="4" fill="#000"/>
<rect x="772" y="417" width="1" height="2" fill="#000"/>
<rect x="773" y="415" width="1" height="6" fill="#000"/>
<rect x="774" y="420" width="1" height="4" fill="#000"/>
<rect x="775" y="424" width="1" height="2" fill="#000"/>
<rect x="776" y="421" width="1" height="3" fill="#000"/>
<rect x="777" y="415" width="1" height="7" fill="#000"/>
<rect x="778" y="417" width="1" height="2" fill="#000"/>
<rect x="779" y="416" width="1" height="2" fill="#000"/>
<rect x="780" y="415" width="1" height="5" fill="#000"/>
<rect x="781" y="418" width="1" height="3" fill="#000"/>
<rect x="782" y="419" width="1" height="2" fill="#000"/>
<rect x="783" y="418" width="1" height="3" fill="#000"/>
<rect x="784" y="416" width="1" height="2" fill="#000"/>
<rect x="785" y="416" width="1" height="3" fill="#000"/>
<rect x="786" y="416" width="1" height="3" fill="#000"/>
<rect x="787" y="417" width="1" height="3" fill="#000"/>
<rect x="788" y="416" width="1" height="5" fill="#000"/>
<rect x="789" y="418" width="1" height="2" fill="#000"/>
<rect x="790" y="416" width="1" height="2" fill="#000"/>
<rect x="791" y="414" width="1" height="3" fill="#000"/>
<rect x="792" y="413" width="1" height="3" fill="#000"/>
<rect x="793" y="412" width="1" height="3" fill="#000"/>
<rect x="794" y="411" width="1" height="3" fill="#000"/>
<rect x="795" y="413" width="1" height="4" fill="#000"/>
<rect x="796" y="411" width="1" height="6" fill="#000"/>
<rect x="797" y="413" width="1" height="3" fill="#000"/>
<rect x="798" y="414" width="1" height="2" fill="#000"/>
<rect x="799" y="411" width="1" height="3" fill="#000"/>
<rect x="800" y="410" width="1" height="4" fill="#000"/>
<rect x="801" y="413" width="1" height="2" fill="#000"/>
<rect x="802" y="412" width="1" height="3" fill="#000"/>
<rect x="803" y="408" width="1" height="5" fill="#000"/>
<rect x="804" y="409" width="1" height="4" fill="#000"/>
<rect x="805" y="412" width="1" height="1" fill="#000"/>
<rect x="806" y="411" width="1" height="3" fill="#000"/>
<rect x="807" y="411" width="1" height="6" fill="#000"/>
<rect x="808" y="413" width="1" height="2" fill="#000"/>
<rect x="809" y="413" width="1" height="4" fill="#000"/>
<rect x="810" y="413" width="1" height="4" fill="#000"/>
<rect x="811" y="412" width="1" height="2" fill="#000"/>
<rect x="812" y="411" width="1" height="5" fill="#000"/>
<rect x="813" y="416" width="1" height="3" fill="#000"/>
<rect x="814" y="414" width="1" height="5" fill="#000"/>
<rect x="815" y="416" width="1" height="3" fill="#000"/>
<rect x="816" y="417" width="1" height="2" fill="#000"/>
<rect x="817" y="414" width="1" height="5" fill="#000"/>
<rect x="818" y="417" width="1" height="3" fill="#000"/>
<rect x="819" y="415" width="1" height="4" fill="#000"/>
<rect x="820" y="417" width="1" height="7" fill="#000"/>
<rect x="821" y="421" width="1" height="5" fill="#000"/>
<rect x="822" y="420" width="1" height="4" fill="#000"/>
<rect x="823" y="416" width="1" height="9" fill="#000"/>
<rect x="824" y="414" width="1" height="8" fill="#000"/>
<rect x="825" y="418" width="1" height="4" fill="#000"/>
<rect x="826" y="417" width="1" height="4" fill="#000"/>
<rect x="827" y="417" width="1" height="2" fill="#000"/>
<rect x="828" y="419" width="1" height="8" fill="#000"/>
<rect x="829" y="421" width="1" height="5" fill="#000"/>
<rect x="830" y="423" width="1" height="4" fill="#000"/>
<rect x="831" y="425" width="1" height="1" fill="#000"/>
<rect x="832" y="424" width="1" height="2" fill="#000"/>
<rect x="833" y="424" width="1" height="3" fill="#000"/>
<rect x="834" y="425" width="1" height="5" fill="#000"/>
<rect x="835" y="425" width="1" height="3" fill="#000"/>
<rect x="836" y="425" width="1" height="7" fill="#000"/>
<rect x="837" y="423" width="1" height="7" fill="#000"/>
<rect x="838" y="423" width="1" height="3" fill="#000"/>
<rect x="839" y="424" width="1" height="3" fill="#000"/>
<rect x="840" y="425" width="1" height="9" fill="#000"/>
<rect x="841" y="427" width="1" height="9" fill="#000"/>
<rect x="842" y="425" width="1" height="4" fill="#000"/>
<rect x="843" y="429" width="1" height="3" fill="#000"/>
<rect x="844" y="428" width="1" height="5" fill="#000"/>
<rect x="845" y="423" width="1" height="8" fill="#000"/>
<rect x="846" y="425" width="1" height="8" fill="#000"/>
<rect x="847" y="431" width="1" height="5" fill="#000"/>
<rect x="848" y="429" width="1" height="2" fill="#000"/>
<rect x="849" y="428" width="1" height="6" fill="#000"/>
<rect x="850" y="428" width="1" height="10" fill="#000"/>
<rect x="851" y="427" width="1" height="10" fill="#000"/>
<rect x="852" y="434" width="1" height="4" fill="#000"/>
<rect x="853" y="433" width="1" height="2" fill="#000"/>
<rect x="854" y="435" width="1" height="10" fill="#000"/>
<rect x="855" y="431" width="1" height="8" fill="#000"/>
<rect x="856" y="436" width="1" height="5" fill="#000"/>
<rect x="857" y="430" width="1" height="9" fill="#000"/>
<rect x="858" y="434" width="1" height="4" fill="#000"/>
<rect x="859" y="434" width="1" height="5" fill="#000"/>
<rect x="860" y="435" width="1" height="6" fill="#000"/>
<rect x="861" y="435" width="1" height="7" fill="#000"/>
<rect x="862" y="440" width="1" height="4" fill="#000"/>
<rect x="863" y="437" width="1" height="5" fill="#000"/>
<rect x="864" y="440" width="1" height="3" fill="#000"/>
<rect x="865" y="438" width="1" height="6" fill="#000"/>
<rect x="866" y="441" width="1" height="3" fill="#000"/>
<rect x="867" y="442" width="1" height="6" fill="#000"/>
<rect x="868" y="442" width="1" height="4" fill="#000"/>
<rect x="869" y="443" width="1" height="7" fill="#000"/>
<rect x="870" y="447" width="1" height="3" fill="#000"/>
<rect x="871" y="450" width="1" height="5" fill="#000"/>
<rect x="872" y="453" width="1" height="3" fill="#000"/>
<rect x="873" y="453" width="1" height="8" fill="#000"/>
<rect x="874" y="458" width="1" height="4" fill="#000"/>
<rect x="875" y="457" width="1" height="7" fill="#000"/>
<rect x="876" y="457" width="1" height="5" fill="#000"/>
<rect x="877" y="458" width="1" height="3" fill="#000"/>
<rect x="878" y="456" width="1" height="7" fill="#000"/>
<rect x="879" y="461" width="1" height="3" fill="#000"/>
<rect x="880" y="456" width="1" height="6" fill="#000"/>
<rect x="881" y="457" width="1" height="8" fill="#000"/>
<rect x="882" y="454" width="1" height="11" fill="#000"/>
<rect x="883" y="458" width="1" height="4" fill="#000"/>
<rect x="884" y="460" width="1" height="2" fill="#000"/>
<rect x="885" y="458" width="1" height="6" fill="#000"/>
<rect x="886" y="457" width="1" height="9" fill="#000"/>
<rect x="887" y="457" width="1" height="5" fill="#000"/>
<rect x="888" y="460" width="1" height="6" fill="#000"/>
<rect x="889" y="463" width="1" height="4" fill="#000"/>
<rect x="890" y="461" width="1" height="4" fill="#000"/>
<rect x="891" y="461" width="1" height="9" fill="#000"/>
<rect x="892" y="461" width="1" height="5" fill="#000"/>
<rect x="893" y="458" width="1" height="6" fill="#000"/>
<rect x="894" y="463" width="1" height="8" fill="#000"/>
<rect x="895" y="462" width="1" height="4" fill="#000"/>
<rect x="896" y="465" width="1" height="3" fill="#000"/>
<rect x="897" y="462" width="1" height="8" fill="#000"/>
<rect x="898" y="464" width="1" height="5" fill="#000"/>
<rect x="899" y="459" width="1" height="12" fill="#000"/>
<rect x="900" y="456" width="1" height="13" fill="#000"/>
<rect x="901" y="461" width="1" height="4" fill="#000"/>
<rect x="902" y="464" width="1" height="6" fill="#000"/>
<rect x="903" y="462" width="1" height="8" fill="#000"/>
<rect x="904" y="463" width="1" height="6" fill="#000"/>
<rect x="905" y="462" width="1" height="6" fill="#000"/>
<rect x="906" y="460" width="1" height="3" fill="#000"/>
<rect x="907" y="463" width="1" height="11" fill="#000"/>
<rect x="908" y="463" width="1" height="9" fill="#000"/>
<rect x="909" y="465" width="1" height="8" fill="#000"/>
<rect x="910" y="462" width="1" height="14" fill="#000"/>
<rect x="911" y="467" width="1" height="4" fill="#000"/>
<rect x="912" y="471" width="1" height="7" fill="#000"/>
<rect x="913" y="478" width="1" height="13" fill="#000"/>
<rect x="914" y="482" width="1" height="10" fill="#000"/>
<rect x="915" y="483" width="1" height="4" fill="#000"/>
<rect x="916" y="481" width="1" height="7" fill="#000"/>
<rect x="917" y="488" width="1" height="7" fill="#000"/>
<rect x="918" y="479" width="1" height="17" fill="#000"/>
<rect x="919" y="476" width="1" height="12" fill="#000"/>
<rect x="920" y="482" width="1" height="8" fill="#000"/>
<rect x="921" y="483" width="1" height="12" fill="#000"/>
<rect x="922" y="480" width="1" height="3" fill="#000"/>
<rect x="923" y="476" width="1" height="8" fill="#000"/>
<rect x="924" y="483" width="1" height="9" fill="#000"/>
<rect x="925" y="479" width="1" height="15" fill="#000"/>
<rect x="926" y="480" width="1" height="14" fill="#000"/>
<rect x="927" y="480" width="1" height="11" fill="#000"/>
<rect x="928" y="487" width="1" height="18" fill="#000"/>
<rect x="929" y="486" width="1" height="7" fill="#000"/>
<rect x="930" y="483" width="1" height="11" fill="#000"/>
<rect x="931" y="473" width="1" height="23" fill="#000"/>
<rect x="932" y="481" width="1" height="15" fill="#000"/>
<rect x="933" y="483" width="1" height="15" fill="#000"/>
<rect x="934" y="486" width="1" height="12" fill="#000"/>
<rect x="935" y="475" width="1" height="12" fill="#000"/>
<rect x="936" y="484" width="1" height="17" fill="#000"/>
<rect x="937" y="474" width="1" height="29" fill="#000"/>
<rect x="938" y="487" width="1" height="11" fill="#000"/>
<rect x="939" y="479" width="1" height="19" fill="#000"/>
<rect x="940" y="483" width="1" height="22" fill="#000"/>
<rect x="941" y="468" width="1" height="28" fill="#000"/>
<rect x="942" y="473" width="1" height="30" fill="#000"/>
<rect x="943" y="485" width="1" height="20" fill="#000"/>
<rect x="944" y="473" width="1" height="16" fill="#000"/>
<rect x="945" y="482" width="1" height="23" fill="#000"/>
<rect x="946" y="472" width="1" height="24" fill="#000"/>
<rect x="947" y="488" width="1" height="17" fill="#000"/>
<rect x="948" y="484" width="1" height="21" fill="#000"/>
<rect x="949" y="470" width="1" height="15" fill="#000"/>
<rect x="950" y="479" width="1" height="10" fill="#000"/>
<rect x="120" y="501" width="1" height="5" fill="#000"/>
<rect x="189" y="501" width="1" height="5" fill="#000"/>
<rect x="259" y="501" width="1" height="5" fill="#000"/>
<rect x="328" y="501" width="1" height="5" fill="#000"/>
<rect x="398" y="501" width="1" height="5" fill="#000"/>
<rect x="467" y="501" width="1" height="5" fill="#000"/>
<rect x="536" y="501" width="1" height="5" fill="#000"/>
<rect x="606" y="501" width="1" height="5" fill="#000"/>
<rect x="675" y="501" width="1" height="5" fill="#000"/>
<rect x="745" y="501" width="1" height="5" fill="#000"/>
<rect x="814" y="501" width="1" height="5" fill="#000"/>
<rect x="884" y="501" width="1" height="5" fill="#000"/>
<rect x="953" y="501" width="1" height="5" fill="#000"/>
<rect x="120" y="505" width="5" height="1" fill="#000"/>
<rect x="120" y="402" width="5" height="1" fill="#000"/>
<rect x="120" y="299" width="5" height="1" fill="#000"/>
<rect x="120" y="196" width="5" height="1" fill="#000"/>
<rect x="120" y="92" width="5" height="1" fill="#000"/>
</g>
<g opacity="0.999">
<text x="99.7" y="536.0" textLength="34.4" lengthAdjust="spacingAndGlyphs" text-anchor="start">3500</text>
<text x="169.1" y="536.0" textLength="34.4" lengthAdjust="spacingAndGlyphs" text-anchor="start">4000</text>
<text x="238.5" y="536.0" textLength="34.4" lengthAdjust="spacingAndGlyphs" text-anchor="start">4500</text>
<text x="307.9" y="536.0" textLength="34.4" lengthAdjust="spacingAndGlyphs" text-anchor="start">5000</text>
<text x="377.4" y="536.0" textLength="34.4" lengthAdjust="spacingAndGlyphs" text-anchor="start">5500</text>
<text x="446.8" y="536.0" textLength="34.4" lengthAdjust="spacingAndGlyphs" text-anchor="start">6000</text>
<text x="516.2" y="536.0" textLength="34.4" lengthAdjust="spacingAndGlyphs" text-anchor="start">6500</text>
<text x="585.6" y="536.0" textLength="34.4" lengthAdjust="spacingAndGlyphs" text-anchor="start">7000</text>
<text x="655.0" y="536.0" textLength="34.4" lengthAdjust="spacingAndGlyphs" text-anchor="start">7500</text>
<text x="724.5" y="536.0" textLength="34.4" lengthAdjust="spacingAndGlyphs" text-anchor="start">8000</text>
<text x="793.9" y="536.0" textLength="34.4" lengthAdjust="spacingAndGlyphs" text-anchor="start">8500</text>
<text x="863.3" y="536.0" textLength="34.4" lengthAdjust="spacingAndGlyphs" text-anchor="start">9000</text>
<text x="932.7" y="536.0" textLength="34.4" lengthAdjust="spacingAndGlyphs" text-anchor="start">9500</text>
<text x="52.2" y="511.8" textLength="54.8" lengthAdjust="spacingAndGlyphs" text-anchor="start">0.0E+00</text>
<text x="52.2" y="408.6" textLength="54.8" lengthAdjust="spacingAndGlyphs" text-anchor="start">5.0E&#8722;10</text>
<text x="52.2" y="305.0" textLength="54.8" lengthAdjust="spacingAndGlyphs" text-anchor="start">1.0E&#8722;09</text>
<text x="52.2" y="202.1" textLength="54.8" lengthAdjust="spacingAndGlyphs" text-anchor="start">1.5E&#8722;09</text>
<text x="52.2" y="98.9" textLength="54.8" lengthAdjust="spacingAndGlyphs" text-anchor="start">2.0E&#8722;09</text>
<text x="396.0" y="40.8" textLength="10.5" lengthAdjust="spacingAndGlyphs" text-anchor="start">&#948;</text>
<text x="413.9" y="40.8" textLength="28.6" lengthAdjust="spacingAndGlyphs" text-anchor="start">Sco</text>
<text x="461.0" y="40.8" textLength="145.0" lengthAdjust="spacingAndGlyphs" text-anchor="start">2011/01/20.885(UT)</text>
<text x="483.2" y="563.8" textLength="83.0" lengthAdjust="spacingAndGlyphs" text-anchor="start">Wavelength(</text>
<text x="571.0" y="563.8" textLength="11.0" lengthAdjust="spacingAndGlyphs" text-anchor="start">&#197;</text>
<text x="583.7" y="563.8" textLength="4.3" lengthAdjust="spacingAndGlyphs" text-anchor="start">)</text>
<text transform="translate(45 314.6) rotate(-90)" x="0" y="0" textLength="31.4" lengthAdjust="spacingAndGlyphs">Flux</text>
</g>
<path shape-rendering="crispEdges" fill="none" stroke="#000" stroke-width="1" stroke-linejoin="miter" stroke-miterlimit="1" d=""/>
</svg>
</body></html>
